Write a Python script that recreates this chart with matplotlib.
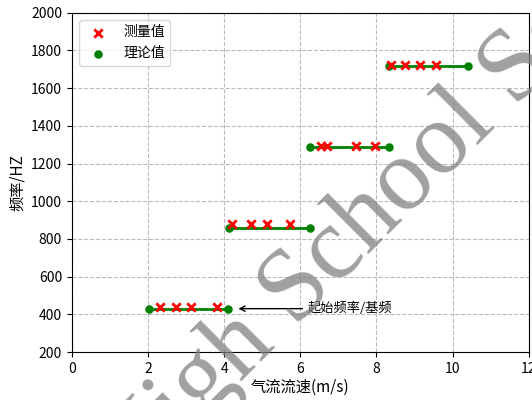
import matplotlib
matplotlib.use("Agg")
from matplotlib import pyplot as plt

plt.rcParams['font.family'] = ['Noto Sans CJK SC', 'DejaVu Sans']
plt.rcParams['axes.unicode_minus'] = False

# theoretical harmonics: start/end flow speed of each plateau
theory_x = [[2.03, 4.1], [4.12, 6.26], [6.26, 8.32], [8.32, 10.4]]
theory_f = [430, 860, 1290, 1720]

# measured points per harmonic
meas_x = [[2.32, 2.74, 3.13, 3.82],
          [4.2, 4.7, 5.13, 5.74],
          [6.55, 6.71, 7.45, 7.95],
          [8.39, 8.74, 9.13, 9.55]]
meas_f = [[440, 440, 440, 440],
          [878, 878, 878, 878],
          [1293, 1293, 1293, 1293],
          [1722, 1722, 1722, 1722]]

fig = plt.figure(figsize=(5.32, 4.0), dpi=100)
ax = fig.add_axes([0.135, 0.12, 0.859, 0.848])

for i in range(len(theory_f)):
    ax.plot(theory_x[i], [theory_f[i]] * 2, color='green', lw=2, zorder=2)
    ax.scatter(theory_x[i], [theory_f[i]] * 2, color='green', s=26, zorder=3,
               label='理论值' if i == 0 else None)
    ax.scatter(meas_x[i], meas_f[i], color='red', marker='x', s=36, linewidths=2,
               zorder=4, label='测量值' if i == 0 else None)

ax.annotate('起始频率/基频', xy=(4.3, 430), xytext=(6.2, 430),
            ha='left', va='center', fontsize=9.5,
            arrowprops=dict(arrowstyle='->', color='black', lw=1))

ax.set_xlim(0, 12)
ax.set_ylim(200, 2000)
ax.set_xticks(range(0, 13, 2))
ax.set_yticks(range(200, 2001, 200))
ax.grid(True, linestyle='--', color='#bbbbbb', lw=0.8)
ax.set_axisbelow(True)
ax.set_xlabel('气流流速(m/s)', fontsize=11, labelpad=2)
ax.set_ylabel('频率/HZ', fontsize=11)
ax.tick_params(labelsize=10)

h, l = ax.get_legend_handles_labels()
ax.legend([h[1], h[0]], [l[1], l[0]], loc='upper left', fontsize=10)

# watermark
fig.text(0.247, -0.2285, 'High School Science', rotation=45, rotation_mode='anchor',
         ha='left', va='baseline', fontsize=74, family='Liberation Serif',
         color='#808080', alpha=0.75, zorder=10)

fig.savefig('out.png', dpi=100)
